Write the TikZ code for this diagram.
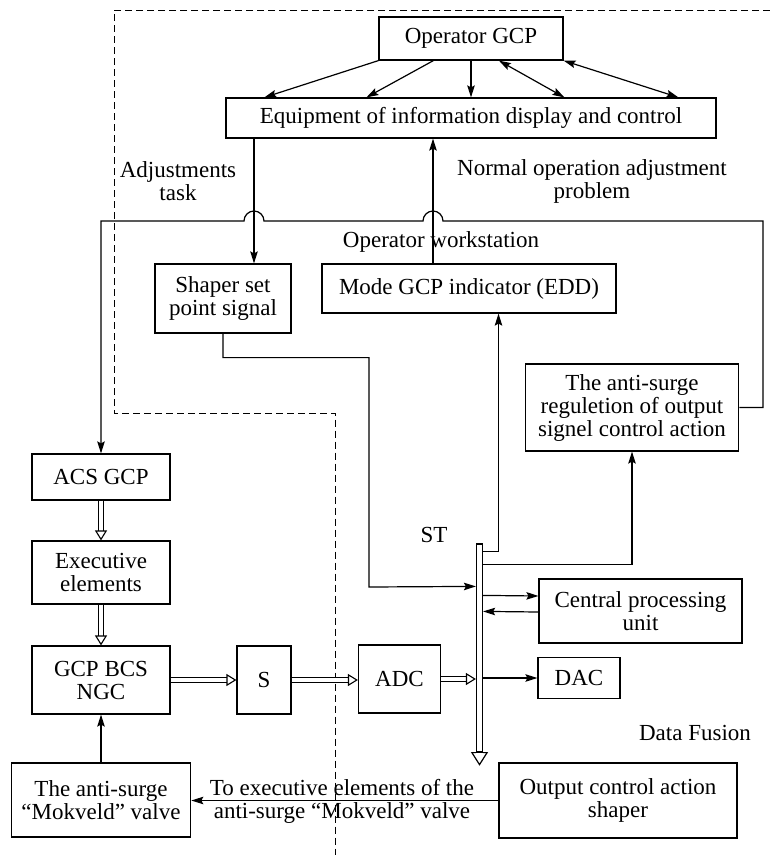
\documentclass[tikz,border=0pt]{standalone}
\usepackage{fontspec}
\setmainfont{Liberation Serif}
\usetikzlibrary{arrows.meta,positioning}

\begin{document}
\begin{tikzpicture}[x=1pt,y=-1pt,
    font=\fontsize{23}{23}\selectfont,
    box/.style={draw,line width=1.2pt,align=center,inner sep=0pt},
    arr/.style={line width=1.2pt,-{Stealth[length=12pt,width=7.5pt,inset=2pt]}},
    arrs/.style={line width=1.2pt,{Stealth[length=12pt,width=7.5pt,inset=2pt]}-{Stealth[length=12pt,width=7.5pt,inset=2pt]}},
    dblarr/.style={line width=1.1pt,double=white,double distance=4pt,-{Triangle[open,length=10pt,width=12pt,line width=1.1pt]}},
    zone/.style={line width=1pt,dash pattern=on 7pt off 4pt}]
    \useasboundingbox (0,0) rectangle (770,857);

    \draw[zone] (770,10) -- (114,10) -- (114,413) -- (335.5,413) -- (335.5,855);

    \node[box,minimum width=184pt,minimum height=43pt] (op) at (471,38.5) {Operator GCP};
    \node[box,minimum width=490pt,minimum height=40pt] (eq) at (471,118) {Equipment of information display and control};
    \node[box,minimum width=136pt,minimum height=69pt] (shaper) at (223,298.5) {Shaper set\\point signal};
    \node[box,minimum width=294pt,minimum height=49pt] (mode) at (469,288.5) {Mode GCP indicator (EDD)};
    \node[box,minimum width=213.5pt,minimum height=87pt] (reg) at (632,407.5) {The anti-surge\\reguletion of output\\signel control action};
    \node[box,minimum width=138pt,minimum height=46pt] (acs) at (101,477) {ACS GCP};
    \node[box,minimum width=138pt,minimum height=63pt] (exe) at (101,572.5) {Executive\\elements};
    \node[box,minimum width=138pt,minimum height=68pt] (gcp) at (101,680) {GCP BCS\\NGC};
    \node[box,minimum width=54pt,minimum height=68pt] (s) at (264,680) {S};
    \node[box,minimum width=82pt,minimum height=68pt] (adc) at (399.5,679) {ADC};
    \node[box,minimum width=203pt,minimum height=64pt] (cpu) at (640.5,611) {Central processing\\unit};
    \node[box,minimum width=82pt,minimum height=41pt] (dac) at (579,678) {DAC};
    \node[box,minimum width=179.5pt,minimum height=74pt] (valve) at (101,800) {The anti-surge\\“Mokveld” valve};
    \node[box,minimum width=238pt,minimum height=75pt] (out) at (618,800.5) {Output control action\\shaper};
    \node[box,minimum width=6pt,minimum height=208pt] (bus) at (479.5,648) {};
    \draw[line width=1.2pt] (bus.south west) -- ++(-4,0) -- ([yshift=-12pt]bus.south) -- ([xshift=4pt]bus.south east) -- (bus.south east);

    \node[align=center] (tasklbl) at (178,181) {Adjustments\\task};
    \node[align=center] (normlbl) at (592,181) {Normal operation adjustment\\problem};
    \node (wslbl) at (441,242) {Operator workstation};
    \node (stlbl) at (434,535) {ST};
    \node (fuslbl) at (695,733) {Data Fusion};
    \node[align=center] (tolbl) at (342,801) {To executive elements of the\\anti-surge “Mokveld” valve};

    \draw[arr] (op.south west) -- ([xshift=39pt]eq.north west);
    \draw[arr] ([xshift=55pt]op.south west) -- ([xshift=141pt]eq.north west);
    \draw[arr] (op.south) -- (eq.north);
    \draw[arrs] ([xshift=120.5pt]op.south west) -- ([xshift=339pt]eq.north west);
    \draw[arrs] (op.south east) -- ([xshift=453pt]eq.north west);

    \coordinate (tsk) at (254,0);
    \coordinate (nrm) at (433,0);
    \draw[arr] (eq.south -| tsk) -- (shaper.north -| tsk);
    \draw[arr] (mode.north -| nrm) -- (eq.south -| nrm);
    \draw[arr] (reg.east) -- (763,407.5) -- (763,221) -- (443,221)
        arc[start angle=0,end angle=-180,radius=10] -- (264,221)
        arc[start angle=0,end angle=-180,radius=10] -- (101,221) -- (acs.north);

    \draw[arr] (shaper.south) -- ++(0,24) -| (369,587) -- ([yshift=-43pt]bus.north west);
    \draw[arr] ([yshift=-8pt]bus.north east) -| ([xshift=29.5pt]mode.south);
    \draw[arr] ([yshift=-21pt]bus.north east) -| (reg.south);
    \draw[arr] ([yshift=-52pt]bus.north east) -- ([yshift=15pt]cpu.west);
    \draw[arr] ([yshift=-1pt]cpu.west) -- ([yshift=-68pt]bus.north east);
    \draw[arr] (dac.west -| bus.east) -- (dac.west);

    \draw[dblarr] (acs.south) -- (exe.north);
    \draw[dblarr] (exe.south) -- (gcp.north);
    \draw[dblarr] (gcp.east) -- (s.west);
    \draw[dblarr] (s.east) -- (s.east -| adc.west);
    \draw[dblarr] (adc.east) -- (adc.east -| bus.west);

    \draw[arr] (valve.north) -- (gcp.south);
    \draw[arr] (out.west) -- (out.west -| valve.east);
\end{tikzpicture}
\end{document}
